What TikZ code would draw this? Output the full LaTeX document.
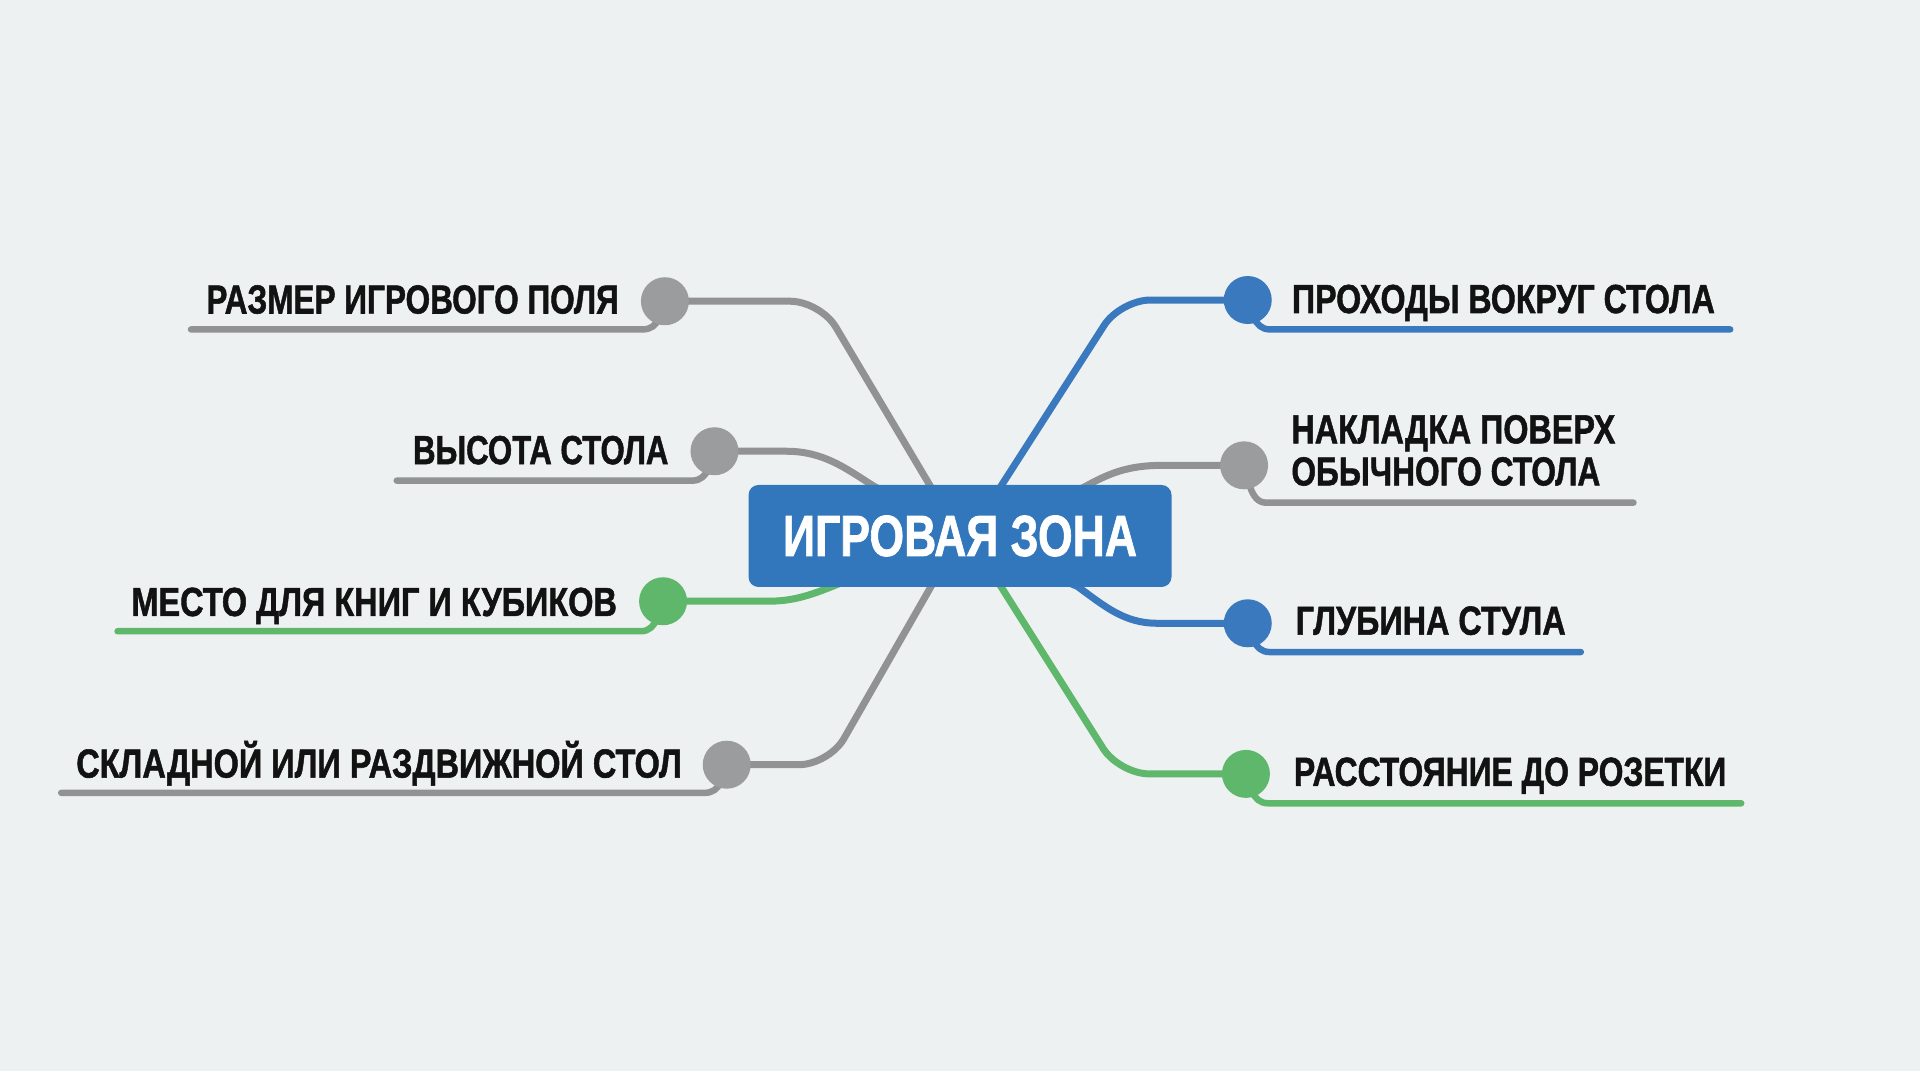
\documentclass[tikz,border=0pt]{standalone}
\usepackage{graphicx}
\usepackage{fontspec}
\newfontfamily\cond{Liberation Sans}[FakeBold=1.4]
\newcommand\mylbl{\cond\bfseries\fontsize{40.5}{42.1}\selectfont}
\newcommand\myhub{\cond\bfseries\fontsize{58}{60}\selectfont}
\newcommand\fitw[2]{\resizebox{#1}{\height}{#2}}
\pgfdeclarelayer{bgl}
\pgfdeclarelayer{back}
\pgfsetlayers{bgl,back,main}
\definecolor{bgc}{HTML}{EEF1F2}
\definecolor{hubc}{HTML}{3277BC}
\definecolor{mblue}{HTML}{3A79BE}
\definecolor{mgray}{HTML}{909294}
\definecolor{dgray}{HTML}{9A9C9E}
\definecolor{mgreen}{HTML}{5EB76B}
\definecolor{txt}{HTML}{121212}
\begin{document}
\begin{tikzpicture}[x=1.2245pt,y=-1.2245pt,
  conn/.style={line width=7pt, line cap=round, line join=round, rounded corners=30pt},
  conncurve/.style={line width=7pt, line cap=round, line join=round},
  uline/.style={line width=6.5pt, line cap=round, line join=round},
  dotn/.style={circle, inner sep=0pt, minimum size=48pt},
  lbl/.style={font=\mylbl, text=txt, inner sep=0pt},
  hub/.style={fill=hubc, rounded corners=10pt, minimum width=423pt, minimum height=102pt,
              inner sep=0pt, text=white, font=\myhub}]
\useasboundingbox (0,0) rectangle (1568,875);
\begin{pgfonlayer}{bgl}
  \fill[bgc] (0,0) rectangle (1568,875);
\end{pgfonlayer}

% hub
\node[hub] (hub) at (784,437.7) {\fitw{354pt}{ИГРОВАЯ ЗОНА}};

% dots
\node[dotn, fill=dgray]  (d1) at (543,246) {};
\node[dotn, fill=dgray]  (d2) at (583.5,368.5) {};
\node[dotn, fill=mgreen] (d3) at (541.5,491) {};
\node[dotn, fill=dgray]  (d4) at (593.5,624.5) {};
\node[dotn, fill=mblue]  (d5) at (1019,245) {};
\node[dotn, fill=dgray]  (d6) at (1016,380) {};
\node[dotn, fill=mblue]  (d7) at (1019,509) {};
\node[dotn, fill=mgreen] (d8) at (1017.5,632) {};

% labels
\node[lbl, anchor=base east] (t1) at (505.5,256) {\fitw{412.4pt}{РАЗМЕР ИГРОВОГО ПОЛЯ}};
\node[lbl, anchor=base east] (t2) at (546,379) {\fitw{255.3pt}{ВЫСОТА СТОЛА}};
\node[lbl, anchor=base east] (t3) at (504,503) {\fitw{485.5pt}{МЕСТО ДЛЯ КНИГ И КУБИКОВ}};
\node[lbl, anchor=base east] (t4) at (557,635) {\fitw{605.5pt}{СКЛАДНОЙ ИЛИ РАЗДВИЖНОЙ СТОЛ}};
\node[lbl, anchor=base west] (t5) at (1055,255.6) {\fitw{422.8pt}{ПРОХОДЫ ВОКРУГ СТОЛА}};
\node[lbl, anchor=base west, align=left] (t6) at (1054.5,396.4) {\fitw{323.9pt}{НАКЛАДКА ПОВЕРХ}\\\fitw{308.8pt}{ОБЫЧНОГО СТОЛА}};
\node[lbl, anchor=base west] (t7) at (1058,518.3) {\fitw{270pt}{ГЛУБИНА СТУЛА}};
\node[lbl, anchor=base west] (t8) at (1056.6,641.7) {\fitw{432.3pt}{РАССТОЯНИЕ ДО РОЗЕТКИ}};

\begin{pgfonlayer}{back}
  % connectors from hub
  \draw[conn, mgray]  (hub.center) -- (670,246) -- (d1.center);
  \draw[conn, mgray]  (hub.center) -- (677,624.5) -- (d4.center);
  \draw[conn, mblue]  ([xshift=9pt]hub.center) -- (915,245) -- (d5.center);
  \draw[conn, mgreen] ([xshift=9pt]hub.center) -- (914,632) -- (d8.center);
  \draw[conncurve, mgray]  (d2.center) -- (642,368.5) .. controls (672,368.5) and (690,382) .. (712,396) -- (hub.center);
  \draw[conncurve, mgray]  (d6.center) -- (950,380) .. controls (920,380) and (905,387) .. (885,398) -- ([xshift=9pt]hub.center);
  \draw[conncurve, mgreen] (d3.center) -- (627,491) .. controls (648,491) and (662,486) .. (682,478) -- (hub.center);
  \draw[conncurve, mblue]  (d7.center) -- (945,509) .. controls (918,509) and (902,495) .. (880,479) -- (hub.center);

  % underlines
  \draw[uline, mgray]  (d1.center) -- ++(-5,14) to[out=-110,in=0] ++(-13,9) -- (156,269);
  \draw[uline, mgray]  (d2.center) -- ++(-5,14) to[out=-110,in=0] ++(-13,10) -- (324,392.5);
  \draw[uline, mgreen] (d3.center) -- ++(-5,14) to[out=-110,in=0] ++(-13,10.5) -- (96,515.5);
  \draw[uline, mgray]  (d4.center) -- ++(-5,14) to[out=-110,in=0] ++(-13,9) -- (50,647.5);
  \draw[uline, mblue]  (d5.center) -- ++(5,14) to[out=-70,in=180] ++(13,10) -- (1413,269);
  \draw[uline, mgray]  (d6.center) -- ++(5,18) to[out=-70,in=180] ++(13,12.5) -- (1334,410.5);
  \draw[uline, mblue]  (d7.center) -- ++(5,14) to[out=-70,in=180] ++(13,9.5) -- (1291,532.5);
  \draw[uline, mgreen] (d8.center) -- ++(5,14) to[out=-70,in=180] ++(13,10) -- (1422,656);
\end{pgfonlayer}
\end{tikzpicture}
\end{document}
